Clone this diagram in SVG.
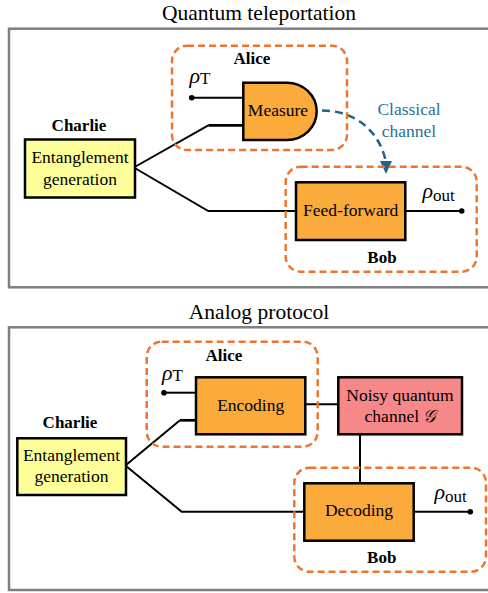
<svg xmlns="http://www.w3.org/2000/svg" width="488" height="593" viewBox="0 0 488 593">
<style>
  text { font-family: "Liberation Serif", "Times New Roman", serif; fill: #000; }
  .title { font-size: 21.5px; text-anchor: middle; }
  .lbl { font-size: 17.5px; text-anchor: middle; }
  .name { font-size: 17px; font-weight: bold; text-anchor: middle; }
  .rho { font-size: 22px; font-style: italic; }
  .sub { font-size: 17px; font-style: normal; }
  .frame { fill: none; stroke: #7f7f7f; stroke-width: 2.5; }
  .box { stroke: #000; stroke-width: 2.5; }
  .ent { fill: #ffff99; }
  .op { fill: #fbab3c; }
  .noisy { fill: #f6888a; }
  .party { fill: none; stroke: #ec7533; stroke-width: 2.5; stroke-dasharray: 7 4; }
  .wire { fill: none; stroke: #000; stroke-width: 2; }
  .wire2 { fill: none; stroke: #000; stroke-width: 2.7; }
  .cc { fill: none; stroke: #1f6386; stroke-width: 2.5; stroke-dasharray: 8 5; }
  .cctext { font-size: 17.5px; text-anchor: middle; fill: #2a6f94; }
</style>

<!-- Panel frames and titles -->
<g id="panel-top">
  <rect class="frame" x="9" y="28.7" width="482" height="258.6"/>
  <text class="title" x="259" y="20">Quantum teleportation</text>
</g>
<g id="panel-bottom">
  <rect class="frame" x="9" y="327.3" width="482" height="262.7"/>
  <text class="title" x="259" y="319">Analog protocol</text>
</g>

<!-- Connectors -->
<g id="connectors">
  <!-- top -->
  <line class="wire" x1="191.7" y1="97.7" x2="243.3" y2="97.7"/>
  <polyline class="wire" points="134.7,167 208.3,125.3"/>
  <line class="wire2" x1="208.3" y1="125.3" x2="243.3" y2="125.3"/>
  <polyline class="wire" points="134.7,168 208.3,211 296,211"/>
  <line class="wire" x1="405.3" y1="211" x2="461.7" y2="211"/>
  <circle cx="191.7" cy="97.7" r="2.8" fill="#000"/>
  <circle cx="461.7" cy="211" r="2.8" fill="#000"/>
  <path class="cc" d="M322 110.5 C352 110.5 378 128 385.5 160"/>
  <polygon points="380,161 392,161 386,174" fill="#1f6386"/>
  <!-- bottom -->
  <line class="wire" x1="164" y1="392.7" x2="196" y2="392.7"/>
  <polyline class="wire" points="126,465 180,420.3"/>
  <line class="wire2" x1="180" y1="420.3" x2="196" y2="420.3"/>
  <polyline class="wire" points="126,466 181.7,511.7 304.3,511.7"/>
  <line class="wire" x1="305.3" y1="404.3" x2="338.3" y2="404.3"/>
  <line class="wire" x1="360" y1="434.3" x2="360" y2="483.3"/>
  <line class="wire" x1="413.7" y1="511.7" x2="470.3" y2="511.7"/>
  <circle cx="164" cy="392.7" r="2.8" fill="#000"/>
  <circle cx="470.3" cy="511.7" r="2.8" fill="#000"/>
</g>

<!-- Top panel nodes -->
<g id="charlie-top">
  <rect class="box ent" x="25" y="139.5" width="110" height="58"/>
  <text class="lbl" x="80" y="163">Entanglement</text>
  <text class="lbl" x="80" y="184.5">generation</text>
  <text class="name" x="79" y="131">Charlie</text>
</g>
<g id="measure">
  <path class="box op" d="M243.3 82.7 H287 A29.7 28.65 0 0 1 287 140 H243.3 Z"/>
  <text class="lbl" x="278" y="115.5">Measure</text>
</g>
<g id="rho-t-top">
  <text class="rho" x="189.5" y="83">ρ<tspan class="sub" dy="1">T</tspan></text>
</g>
<g id="alice-top">
  <rect class="party" x="172" y="45.7" width="175" height="104.3" rx="15"/>
  <text class="name" x="252" y="64">Alice</text>
</g>
<g id="classical-channel-label">
  <text class="cctext" x="409" y="115">Classical</text>
  <text class="cctext" x="409" y="136.7">channel</text>
</g>
<g id="feedforward">
  <rect class="box op" x="296" y="182.3" width="109.3" height="57.7"/>
  <text class="lbl" x="350.7" y="215.5">Feed-forward</text>
</g>
<g id="rho-out-top">
  <text class="rho" x="422.5" y="198">ρ<tspan class="sub" dy="3">out</tspan></text>
</g>
<g id="bob-top">
  <rect class="party" x="285.7" y="166.7" width="191" height="105" rx="15"/>
  <text class="name" x="382" y="263">Bob</text>
</g>

<!-- Bottom panel nodes -->
<g id="charlie-bottom">
  <rect class="box ent" x="17.3" y="438.3" width="108.7" height="56.7"/>
  <text class="lbl" x="71.5" y="460.7">Entanglement</text>
  <text class="lbl" x="71.5" y="481.5">generation</text>
  <text class="name" x="70" y="427.7">Charlie</text>
</g>
<g id="encoding">
  <rect class="box op" x="196" y="377.3" width="109.3" height="57"/>
  <text class="lbl" x="250.7" y="411">Encoding</text>
</g>
<g id="rho-t-bottom">
  <text class="rho" x="162" y="380">ρ<tspan class="sub" dy="1">T</tspan></text>
</g>
<g id="alice-bottom">
  <rect class="party" x="146.7" y="341.7" width="171" height="105" rx="15"/>
  <text class="name" x="224" y="360.7">Alice</text>
</g>
<g id="noisy-channel">
  <rect class="box noisy" x="338.3" y="377.3" width="123.7" height="57"/>
  <text class="lbl" x="400" y="401">Noisy quantum</text>
  <text class="lbl" x="400" y="422.3">channel <tspan font-style="italic" font-family="DejaVu Serif, Liberation Serif, serif">𝒢</tspan></text>
</g>
<g id="decoding">
  <rect class="box op" x="304.3" y="483.3" width="109.4" height="57.4"/>
  <text class="lbl" x="359" y="516">Decoding</text>
</g>
<g id="rho-out-bottom">
  <text class="rho" x="434.5" y="498.5">ρ<tspan class="sub" dy="3">out</tspan></text>
</g>
<g id="bob-bottom">
  <rect class="party" x="294.3" y="467.7" width="191.7" height="104" rx="15"/>
  <text class="name" x="381.7" y="563.3">Bob</text>
</g>
</svg>
